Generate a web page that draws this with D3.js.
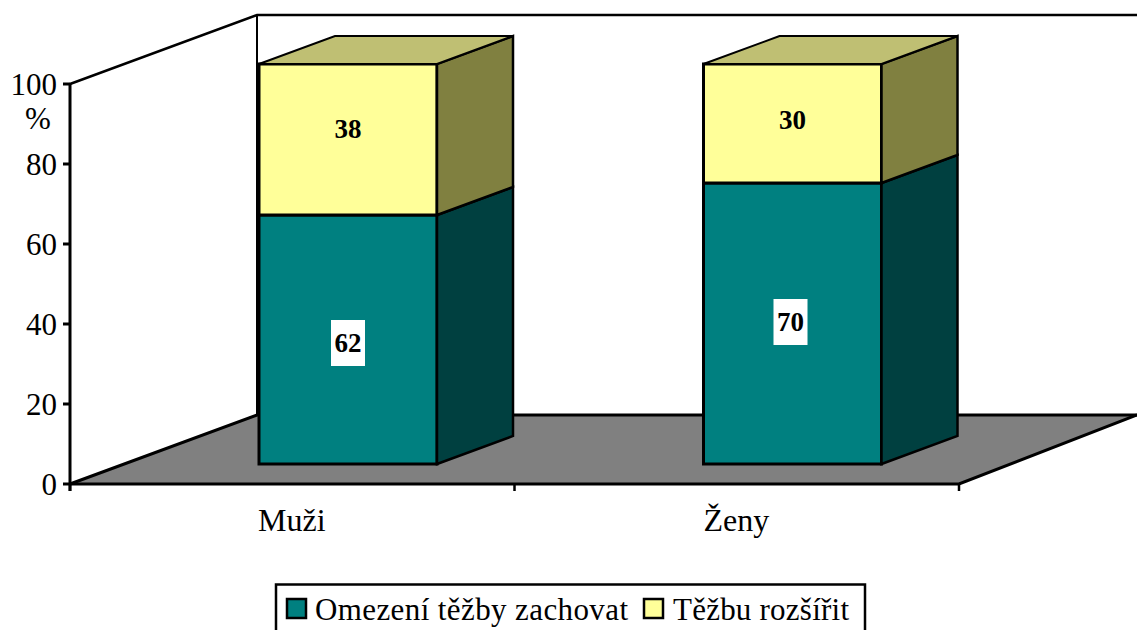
<!DOCTYPE html>
<html><head><meta charset="utf-8">
<script src="https://cdn.jsdelivr.net/npm/d3@7/dist/d3.min.js"></script>
<style>html,body{margin:0;padding:0;background:#fff}svg{display:block}text{font-family:"Liberation Serif",serif;fill:#000}</style>
</head><body><svg id="c" width="1137" height="630"></svg>
<script>
const categories = ["Muži", "Ženy"];
const seriesNames = ["Omezení těžby zachovat", "Těžbu rozšířit"];
const zachovat = [62, 70];
const rozsirit = [38, 30];
const yTicks = [0, 20, 40, 60, 80, 100];
const colorsFront = ["#008080", "#FFFF99"];
const colorsSide = ["#004040", "#808040"];
const colorTop = "#BFBF73";
const svg = d3.select("#c");
const y = d3.scaleLinear().domain([0, 100]).range([484, 84]);
const x = d3.scaleBand().domain(categories).range([70, 959]);
const depth = {dx: 187, dy: -69};
const px = (pts) => d3.line()(pts) + "Z";
const X0 = x.range()[0], X1 = x.range()[1], Y0 = y(0), Y1 = y(100);
const sw = 3;
// back wall lines
svg.append("path").attr("d", d3.line()([[X0, Y1], [X0 + depth.dx, Y1 + depth.dy], [1137, Y1 + depth.dy]])).attr("fill", "none").attr("stroke", "#000").attr("stroke-width", 2.5);
svg.append("line").attr("x1", X0 + depth.dx).attr("x2", X0 + depth.dx).attr("y1", Y1 + depth.dy).attr("y2", Y0 + depth.dy).attr("stroke", "#000").attr("stroke-width", 2);
// floor
svg.append("path").attr("d", px([[X0, Y0], [X0 + depth.dx, Y0 + depth.dy], [X1 + 178, Y0 + depth.dy], [X1, Y0]])).attr("fill", "#808080").attr("stroke", "none");
svg.append("path").attr("d", d3.line()([[X0, Y0], [X0 + depth.dx, Y0 + depth.dy], [1137, Y0 + depth.dy]])).attr("fill", "none").attr("stroke", "#000").attr("stroke-width", sw);
svg.append("path").attr("d", d3.line()([[1137, Y0 + depth.dy], [X1, Y0], [X0, Y0]])).attr("fill", "none").attr("stroke", "#000").attr("stroke-width", sw);
// axes
svg.append("line").attr("x1", X0).attr("x2", X0).attr("y1", Y1).attr("y2", Y0 + 7).attr("stroke", "#000").attr("stroke-width", sw);
yTicks.forEach(t => {
  svg.append("line").attr("x1", X0 - 7).attr("x2", X0).attr("y1", y(t)).attr("y2", y(t)).attr("stroke", "#000").attr("stroke-width", sw);
  svg.append("text").attr("x", 57).attr("y", y(t) + 11).attr("text-anchor", "end").attr("font-size", 31).text(t);
});
svg.append("text").attr("x", 38).attr("y", 129).attr("text-anchor", "middle").attr("font-size", 31).text("%");
[...categories.map(c => x(c)), X1].forEach(v => {
  svg.append("line").attr("x1", v).attr("x2", v).attr("y1", Y0).attr("y2", Y0 + 7).attr("stroke", "#000").attr("stroke-width", 2.5);
});
// bars
const barW = 178, ddx = 76, ddy = -28, floorOffset = 20;
const nudgeLower = [3, -2], nudgeUpper = [-11, -4], nudgeX = [0, -2];
categories.forEach((c, i) => {
  const bx = x(c) + depth.dx + 2;
  const base = [0, zachovat[i], zachovat[i] + rozsirit[i]];
  const yb = v => y(v) - floorOffset;
  [0, 1].forEach(s => {
    const a = yb(base[s] + (s === 1 ? 0.25 : 0)), b = yb(base[s + 1] + (s === 0 ? 0.25 : 0));
    svg.append("rect").attr("x", bx).attr("y", b).attr("width", barW).attr("height", a - b)
      .attr("fill", colorsFront[s]).attr("stroke", "#000").attr("stroke-width", sw);
    svg.append("path").attr("d", px([[bx + barW, a], [bx + barW + ddx, a + ddy], [bx + barW + ddx, b + ddy], [bx + barW, b]]))
      .attr("fill", colorsSide[s]).attr("stroke", "#000").attr("stroke-width", 2.5);
  });
  const t = yb(100);
  svg.append("path").attr("d", px([[bx, t], [bx + ddx, t + ddy], [bx + barW + ddx, t + ddy], [bx + barW, t]]))
    .attr("fill", colorTop).attr("stroke", "#000").attr("stroke-width", 2);
  // labels
  const mx = bx + barW / 2;
  const my0 = (yb(0) + yb(zachovat[i])) / 2 + nudgeLower[i];
  svg.append("rect").attr("x", mx + nudgeX[i] - 17).attr("y", my0 - 23).attr("width", 34).attr("height", 46).attr("fill", "#fff");
  svg.append("text").attr("x", mx + nudgeX[i]).attr("y", my0 + 9).attr("text-anchor", "middle").attr("font-size", 27).attr("font-weight", "bold").text(zachovat[i]);
  const my1 = (yb(zachovat[i]) + yb(100)) / 2 + nudgeUpper[i];
  svg.append("text").attr("x", mx).attr("y", my1 + 9).attr("text-anchor", "middle").attr("font-size", 27).attr("font-weight", "bold").text(rozsirit[i]);
  svg.append("text").attr("x", x(c) + x.bandwidth() / 2 - 0.5).attr("y", 531).attr("text-anchor", "middle").attr("font-size", 32).text(c);
});
// legend
svg.append("rect").attr("x", 276).attr("y", 584.5).attr("width", 589).attr("height", 60).attr("fill", "#fff").attr("stroke", "#000").attr("stroke-width", 2.5);
const lx = [287, 644], tx = [315, 673], tl = [313, 176];
seriesNames.forEach((n, i) => {
  svg.append("rect").attr("x", lx[i]).attr("y", 599).attr("width", 19).attr("height", 19).attr("fill", colorsFront[i]).attr("stroke", "#000").attr("stroke-width", 2.5);
  svg.append("text").attr("x", tx[i]).attr("y", 620).attr("font-size", 31).attr("textLength", tl[i]).text(n);
});
</script></body></html>
